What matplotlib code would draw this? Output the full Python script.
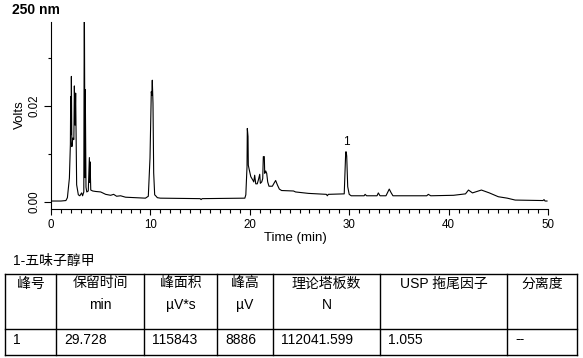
import matplotlib
matplotlib.use("Agg")
import matplotlib.pyplot as plt
from matplotlib.ticker import MultipleLocator, FixedLocator, FuncFormatter

plt.rcParams['font.family'] = ['Liberation Sans', 'Noto Sans CJK SC', 'DejaVu Sans']

# ---------------- data ----------------
title = "250 nm"
time_min = [0.0, 1.0, 1.5, 1.65, 1.85, 1.95, 1.98, 2.02, 2.05, 2.1, 2.2, 2.3, 2.35, 2.42, 2.48,
            2.58, 2.75, 2.9, 3.08, 3.18, 3.3, 3.35, 3.42, 3.45, 3.52, 3.6, 3.75, 3.86, 3.9, 3.93,
            4.0, 4.2, 4.5, 5.0, 5.5, 6.0, 6.3, 6.6, 7.0, 7.5, 8.5, 9.5, 9.79, 9.96, 10.09, 10.14,
            10.19, 10.26, 10.33, 10.43, 10.53, 10.7, 11.0, 15.0, 15.1, 15.2, 19.5, 19.6, 19.72,
            19.75, 19.82, 19.85, 19.95, 20.1, 20.3, 20.4, 20.49, 20.6, 20.75, 20.86, 21.0, 21.06,
            21.2, 21.3, 21.36, 21.46, 21.5, 21.6, 21.7, 21.8, 21.93, 22.27, 22.43, 22.6, 22.77,
            22.97, 23.2, 24.4, 24.6, 25.9, 27.7, 27.8, 27.9, 29.5, 29.65, 29.7, 29.75, 29.85,
            30.0, 30.2, 31.5, 31.6, 31.75, 32.8, 32.93, 33.1, 33.7, 34.03, 34.2, 34.4, 37.8,
            37.96, 38.2, 40.5, 41.7, 42.0, 42.4, 43.3, 44.1, 45.0, 45.9, 46.7, 49.5, 49.6, 49.7,
            49.9]
volts = [0.0001, 0.0001, 0.0002, 0.0008, 0.0049, 0.012, 0.022, 0.014, 0.0262, 0.0115, 0.0133,
         0.013, 0.0242, 0.016, 0.0227, 0.0035, 0.0014, 0.0012, 0.0018, 0.0012, 0.002, 0.045,
         0.005, 0.0234, 0.003, 0.002, 0.0022, 0.0092, 0.004, 0.0083, 0.0024, 0.0022, 0.0021,
         0.002, 0.0015, 0.0013, 0.0015, 0.0011, 0.0012, 0.0009, 0.0008, 0.0007, 0.0011, 0.0091,
         0.023, 0.0222, 0.0254, 0.0206, 0.006, 0.0014, 0.0012, 0.0008, 0.0007, 0.0006, 0.0004,
         0.0006, 0.0007, 0.0014, 0.0073, 0.0153, 0.0136, 0.0076, 0.0066, 0.0052, 0.0045, 0.0041,
         0.0055, 0.0037, 0.0037, 0.0045, 0.0057, 0.0038, 0.0041, 0.0048, 0.0094, 0.0094, 0.0059,
         0.0064, 0.0059, 0.0041, 0.0032, 0.0032, 0.0038, 0.0044, 0.0035, 0.0026, 0.0023, 0.0022,
         0.002, 0.0017, 0.0015, 0.0012, 0.0015, 0.0016, 0.0104, 0.0104, 0.0095, 0.0031, 0.0015,
         0.0012, 0.0012, 0.0015, 0.0012, 0.0012, 0.0018, 0.0012, 0.0012, 0.0026, 0.0019, 0.0012,
         0.0012, 0.0015, 0.0012, 0.0013, 0.0016, 0.0024, 0.0018, 0.0024, 0.0018, 0.001, 0.0007,
         0.0003, 0.0002, 0.0004, 0.0001, 0.0001]

peak_labels = ["1"]
peak_times = [29.70]
peak_heights = [0.0104]

compound_name = "1-五味子醇甲"
table_header = ["峰号", "保留时间", "峰面积", "峰高", "理论塔板数", "USP 拖尾因子", "分离度"]
table_units = ["", "min", "µV*s", "µV", "N", "", ""]
table_row = ["1", "29.728", "115843", "8886", "112041.599", "1.055", "--"]

# ---------------- figure ----------------
W, H = 583, 358
fig = plt.figure(figsize=(W / 100, H / 100), dpi=100)

ax = fig.add_axes([51 / W, 1 - 209 / H, 497 / W, 187 / H])
ax.plot(time_min, volts, color='black', lw=0.8)
ax.set_xlim(0, 50)
ax.set_ylim(-0.00157, 0.03759)
for s in ['top', 'right']:
    ax.spines[s].set_visible(False)
for s in ['left', 'bottom']:
    ax.spines[s].set_linewidth(0.8)

ax.xaxis.set_major_locator(MultipleLocator(10))
ax.xaxis.set_minor_locator(MultipleLocator(1))
ax.yaxis.set_major_locator(FixedLocator([0.0, 0.02]))
ax.yaxis.set_minor_locator(FixedLocator([0.01, 0.03]))
ax.yaxis.set_major_formatter(FuncFormatter(lambda v, p: f"{v:.2f}"))
ax.tick_params(axis='x', which='major', length=4.3, width=0.8, labelsize=8.3, pad=3.2)
ax.tick_params(axis='x', which='minor', length=2.9, width=0.8)
ax.tick_params(axis='y', which='major', length=5.0, width=0.8, labelsize=8.3, pad=2.2)
ax.tick_params(axis='y', which='minor', length=2.2, width=0.8)
for lab in ax.get_yticklabels():
    lab.set_rotation(90)
    lab.set_va('center')

for lbl, t, h in zip(peak_labels, peak_times, peak_heights):
    ax.annotate(lbl, (t, h), xytext=(0, 3), textcoords='offset points',
                ha='center', va='bottom', fontsize=8.5)

# overlay in pixel coordinates for titles and table
ov = fig.add_axes([0, 0, 1, 1], facecolor='none')
ov.set_xlim(0, W)
ov.set_ylim(H, 0)
ov.axis('off')

ov.text(12.5, 9.5, title, fontsize=10, fontweight='bold', ha='left', va='center')
ov.text(20, 115, "Volts", fontsize=9.5, rotation=90, ha='center', va='center')
ov.text(295, 238, "Time (min)", fontsize=9.5, ha='center', va='center')

ov.text(12.5, 260.5, compound_name, fontsize=10, ha='left', va='center')

col_x = [5, 56, 144, 217, 273, 380, 507, 577]
row_y = [273.5, 328.5, 354.5]
lw_tab = 1.0
for y in row_y:
    ov.plot([col_x[0], col_x[-1]], [y, y], color='black', lw=lw_tab, solid_capstyle='projecting')
for x in col_x:
    ov.plot([x, x], [row_y[0], row_y[-1]], color='black', lw=lw_tab, solid_capstyle='projecting')

for i in range(len(table_header)):
    cx = (col_x[i] + col_x[i + 1]) / 2
    ov.text(cx, 283.5, table_header[i], fontsize=10, ha='center', va='center')
    if table_units[i]:
        ov.text(cx, 305, table_units[i], fontsize=10, ha='center', va='center')
    ov.text(col_x[i] + 8, 339.5, table_row[i], fontsize=10, ha='left', va='center')

fig.savefig("out.png", dpi=100)
